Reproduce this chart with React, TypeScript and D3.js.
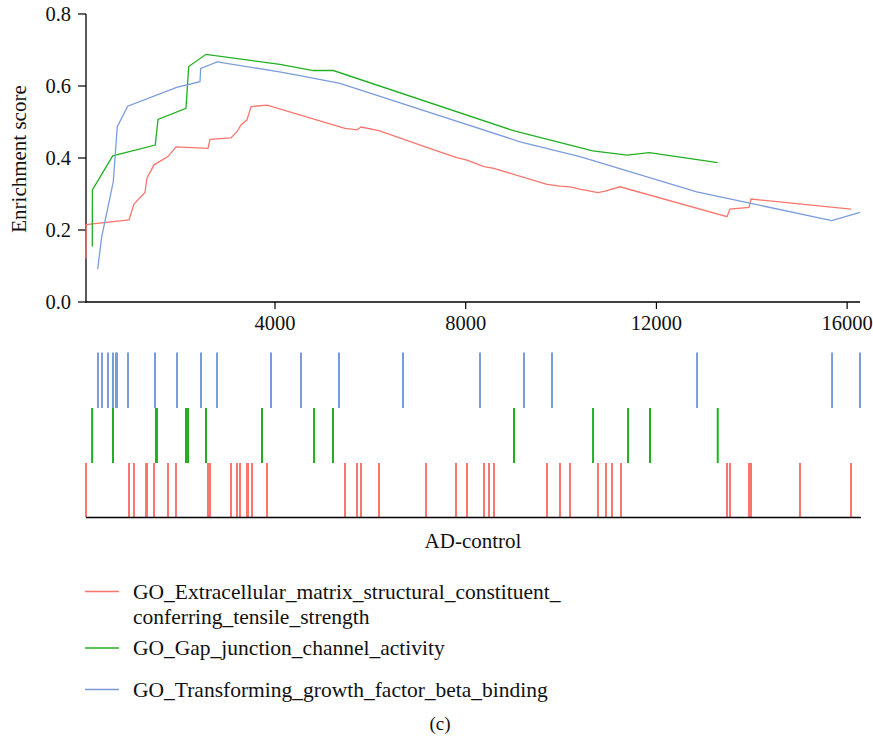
import React from "react";
import * as d3 from "d3";

const W = 873;
const H = 742;

const xTicks = [4000, 8000, 12000, 16000];
const yTicks = [0, 0.2, 0.4, 0.6, 0.8];

const redCurveX = [36, 40, 938, 1042, 1273, 1315, 1462, 1756, 1923, 2595, 2637, 3077, 3203, 3287, 3413, 3497, 3832, 5468, 5720, 5804, 6181, 7167, 7796, 8027, 8384, 8593, 9705, 9978, 10188, 10418, 10775, 10943, 11236, 13481, 13543, 13942, 13984, 16082];
const redCurveY = [0.12, 0.215, 0.228, 0.272, 0.304, 0.344, 0.381, 0.404, 0.431, 0.427, 0.452, 0.456, 0.473, 0.492, 0.506, 0.543, 0.547, 0.482, 0.478, 0.486, 0.476, 0.43, 0.402, 0.394, 0.376, 0.371, 0.327, 0.322, 0.32, 0.313, 0.304, 0.309, 0.32, 0.237, 0.258, 0.263, 0.286, 0.258];

const greenCurveX = [168, 170, 596, 1489, 1546, 2133, 2190, 2553, 3826, 4105, 4803, 5223, 8998, 10397, 10664, 11390, 11851, 13286];
const greenCurveY = [0.154, 0.311, 0.406, 0.436, 0.507, 0.538, 0.654, 0.688, 0.665, 0.66, 0.643, 0.643, 0.476, 0.429, 0.42, 0.408, 0.415, 0.387];

const blueCurveX = [281, 365, 608, 692, 910, 1938, 2427, 2441, 2790, 4063, 4524, 5363, 9139, 10397, 12845, 15677, 16270];
const blueCurveY = [0.091, 0.181, 0.334, 0.487, 0.544, 0.596, 0.612, 0.649, 0.667, 0.64, 0.629, 0.607, 0.445, 0.404, 0.306, 0.226, 0.249];

const redHits = [36, 938, 1042, 1294, 1315, 1462, 1756, 1923, 2595, 2637, 3077, 3203, 3266, 3413, 3434, 3518, 3832, 5468, 5720, 5804, 6181, 7167, 7796, 8027, 8384, 8489, 8593, 9705, 9978, 10188, 10775, 10943, 11069, 11257, 13481, 13543, 13942, 13984, 15012, 16082];
const greenHits = [164, 602, 1503, 1524, 2133, 2154, 2175, 2553, 3728, 4819, 5217, 9013, 10671, 11405, 11866, 13286];
const blueHits = [287, 371, 497, 602, 665, 686, 917, 1483, 1944, 2448, 2783, 3916, 4545, 5342, 6685, 8300, 9223, 9810, 12852, 15684, 16270];

const seriesNames = [
  ["GO_Extracellular_matrix_structural_constituent_", "conferring_tensile_strength"],
  ["GO_Gap_junction_channel_activity"],
  ["GO_Transforming_growth_factor_beta_binding"],
];
const colors = ["#F8766D", "#22B022", "#7B9CDB"];

const FONT = "'Liberation Serif', 'Times New Roman', serif";

export default function App() {
  const x = d3.scaleLinear().domain([36, 16270]).range([86, 860]);
  const y = d3.scaleLinear().domain([0, 0.8]).range([302, 14]);

  const curves = [
    d3.zip(redCurveX, redCurveY),
    d3.zip(greenCurveX, greenCurveY),
    d3.zip(blueCurveX, blueCurveY),
  ];
  const line = d3
    .line<number[]>()
    .x((d) => x(d[0]))
    .y((d) => y(d[1]));

  const hitRows = [
    { hits: blueHits, color: colors[2], y0: 352.5, y1: 408 },
    { hits: greenHits, color: colors[1], y0: 408, y1: 463 },
    { hits: redHits, color: colors[0], y0: 463, y1: 517 },
  ];

  const legendY = [591.5, 648, 689.5];

  return (
    <svg
      width={W}
      height={H}
      style={{ position: "absolute", left: 0, top: 0, background: "#fff" }}
      fontFamily={FONT}
    >
      <rect x={0} y={0} width={W} height={H} fill="#fff" />
      {/* axes */}
      <line x1={86} x2={86} y1={14} y2={302.5} stroke="#000" strokeWidth={1.3} />
      <line x1={85.5} x2={860} y1={302} y2={302} stroke="#000" strokeWidth={1.3} />
      {yTicks.map((t) => (
        <g key={"y" + t}>
          <line x1={78} x2={86} y1={y(t)} y2={y(t)} stroke="#000" strokeWidth={1.2} />
          <text x={71} y={y(t) + 7} textAnchor="end" fontSize={20.5} fill="#111">
            {t.toFixed(1)}
          </text>
        </g>
      ))}
      {xTicks.map((t) => (
        <g key={"x" + t}>
          <line x1={x(t)} x2={x(t)} y1={302} y2={309} stroke="#000" strokeWidth={1.2} />
          <text x={x(t)} y={330} textAnchor="middle" fontSize={20.5} fill="#111">
            {t}
          </text>
        </g>
      ))}
      <text
        transform={`translate(26,159) rotate(-90)`}
        textAnchor="middle"
        fontSize={21}
        fill="#111"
      >
        Enrichment score
      </text>

      {/* curves */}
      {curves.map((c, i) => (
        <path key={"c" + i} d={line(c) || ""} fill="none" stroke={colors[i]} strokeWidth={1.3} />
      ))}

      {/* hit ticks */}
      {hitRows.map((row, ri) =>
        row.hits.map((h, hi) => (
          <line
            key={`h${ri}-${hi}`}
            x1={x(h)}
            x2={x(h)}
            y1={row.y0}
            y2={row.y1}
            stroke={row.color}
            strokeWidth={2}
          />
        ))
      )}
      <line x1={86} x2={861} y1={517.5} y2={517.5} stroke="#000" strokeWidth={1.5} />

      <text x={473} y={548} textAnchor="middle" fontSize={21} fill="#111">
        AD-control
      </text>

      {/* legend */}
      {seriesNames.map((names, i) => (
        <g key={"l" + i}>
          <line x1={85} x2={119} y1={legendY[i]} y2={legendY[i]} stroke={colors[i]} strokeWidth={1.3} />
          {names.map((n, j) => (
            <text key={j} x={133} y={legendY[i] + 7 + j * 25} fontSize={21.5} fill="#111">
              {n}
            </text>
          ))}
        </g>
      ))}

      <text x={440} y={730} textAnchor="middle" fontSize={19} fill="#111">
        (c)
      </text>
    </svg>
  );
}
